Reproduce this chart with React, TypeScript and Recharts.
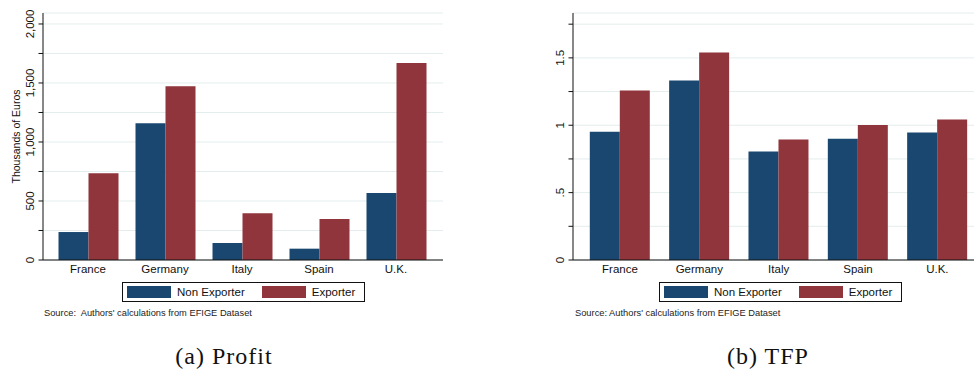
import React from "react";
import { BarChart, Bar, XAxis, YAxis, CartesianGrid, Legend } from "recharts";

const countries = ["France", "Germany", "Italy", "Spain", "U.K."];

const profitNonExporter = [237, 1158, 144, 96, 568];
const profitExporter = [735, 1472, 396, 347, 1669];
const profitTicks = [0, 250, 500, 750, 1000, 1250, 1500, 1750, 2000];

const tfpNonExporter = [0.951, 1.332, 0.806, 0.899, 0.947];
const tfpExporter = [1.258, 1.54, 0.895, 1.001, 1.042];
const tfpTicks = [0, 0.25, 0.5, 0.75, 1, 1.25, 1.5, 1.75];

const seriesNames = ["Non Exporter", "Exporter"];
const sourceNote = "Authors' calculations from EFIGE Dataset";

const NAVY = "#1a476f";
const MAROON = "#90353b";
const GRID = "#e4eded";
const SANS = "'Liberation Sans', Arial, Helvetica, sans-serif";

const profitData = countries.map((c, i) => ({
    country: c,
    non: profitNonExporter[i],
    exp: profitExporter[i],
}));

const tfpData = countries.map((c, i) => ({
    country: c,
    non: tfpNonExporter[i],
    exp: tfpExporter[i],
}));

const fmtProfit = (v: number) => (v % 500 === 0 ? v.toLocaleString("en-US") : "");
const fmtTfp = (v: number) => (v % 0.5 === 0 ? String(v).replace(/^0\./, ".") : "");

// rotated y tick labels, Stata style
const makeYTick = (fmt: (v: number) => string) => (props: any) => {
    const { x, y, payload } = props;
    const label = fmt(payload.value);
    if (!label) return <g />;
    return (
        <text
            transform={`translate(${x - 3},${y}) rotate(-90)`}
            textAnchor="middle"
            fontSize={11.5}
            fontFamily={SANS}
            fill="#111"
        >
            {label}
        </text>
    );
};

const yTitle = (title: string) => (props: any) => {
    const vb = props.viewBox || {};
    return (
        <text
            transform={`translate(${vb.x + 20},${vb.y + vb.height / 2}) rotate(-90)`}
            textAnchor="middle"
            fontSize={10.5}
            fontFamily={SANS}
            fill="#111"
        >
            {title}
        </text>
    );
};

const LegendBox = ({ gap }: { gap: number }) => (
    <div
        style={{
            display: "flex",
            alignItems: "center",
            border: "1px solid #111",
            height: 20,
            padding: "0 4px",
            fontFamily: SANS,
            fontSize: 11.5,
            color: "#111",
            background: "#fff",
            boxSizing: "border-box",
        }}
    >
        <span style={{ width: 44, height: 12, background: NAVY, display: "inline-block" }} />
        <span style={{ marginLeft: 6, marginRight: gap }}>{seriesNames[0]}</span>
        <span style={{ width: 44, height: 12, background: MAROON, display: "inline-block" }} />
        <span style={{ marginLeft: 6, marginRight: 5 }}>{seriesNames[1]}</span>
    </div>
);

interface PanelProps {
    data: any[];
    ticks: number[];
    domainMax: number;
    fmt: (v: number) => string;
    width: number;
    yWidth: number;
    marginRight: number;
    padLeft: number;
    padRight: number;
    catGap: number;
    legendLeft: number;
    legendGap: number;
    title?: string;
}

const Panel: React.FC<PanelProps> = (p) => (
    <BarChart
        width={p.width}
        height={372}
        data={p.data}
        margin={{ top: 13, right: p.marginRight, left: 0, bottom: 82 }}
        barGap={0}
        barCategoryGap={p.catGap}
    >
        <CartesianGrid vertical={false} stroke={GRID} strokeWidth={1} />
        <XAxis
            dataKey="country"
            height={30}
            tickLine={false}
            tickSize={0}
            tickMargin={4.5}
            padding={{ left: p.padLeft, right: p.padRight }}
            axisLine={{ stroke: "#111" }}
            tick={{ fontSize: 11.5, fontFamily: SANS, fill: "#111" }}
            interval={0}
        />
        <YAxis
            width={p.yWidth}
            type="number"
            domain={[0, p.domainMax]}
            ticks={p.ticks}
            interval={0}
            tickSize={4.5}
            tickLine={{ stroke: "#111" }}
            axisLine={{ stroke: "#111" }}
            tick={makeYTick(p.fmt)}
            label={p.title ? yTitle(p.title) : undefined}
        />
        <Legend
            layout="vertical"
            align="center"
            verticalAlign="middle"
            wrapperStyle={{ left: p.legendLeft, top: 282, width: "auto" }}
            content={() => <LegendBox gap={p.legendGap} />}
        />
        <Bar dataKey="non" name={seriesNames[0]} fill={NAVY} isAnimationActive={false} />
        <Bar dataKey="exp" name={seriesNames[1]} fill={MAROON} isAnimationActive={false} />
    </BarChart>
);

const noteStyle: React.CSSProperties = {
    position: "absolute",
    top: 308,
    fontFamily: SANS,
    fontSize: 9.3,
    color: "#222",
    whiteSpace: "pre",
};

const captionStyle: React.CSSProperties = {
    position: "absolute",
    top: 343,
    fontFamily: "'Liberation Serif', 'Times New Roman', serif",
    fontSize: 24,
    letterSpacing: 1,
    color: "#111",
    transform: "translateX(-50%)",
    whiteSpace: "pre",
};

export default function App() {
    return (
        <div
            style={{
                position: "absolute",
                left: 0,
                top: 0,
                width: 974,
                height: 372,
                overflow: "hidden",
                background: "#fff",
            }}
        >
            <div style={{ position: "absolute", left: 0, top: 0 }}>
                <Panel
                    data={profitData}
                    ticks={profitTicks}
                    domainMax={2093}
                    fmt={fmtProfit}
                    width={480}
                    yWidth={43}
                    marginRight={37}
                    padLeft={6.5}
                    padRight={8.5}
                    catGap={9}
                    legendLeft={122}
                    legendGap={17}
                    title="Thousands of Euros"
                />
            </div>
            <div style={{ position: "absolute", left: 490, top: 0 }}>
                <Panel
                    data={tfpData}
                    ticks={tfpTicks}
                    domainMax={1.833}
                    fmt={fmtTfp}
                    width={500}
                    yWidth={83}
                    marginRight={5}
                    padLeft={7.3}
                    padRight={8}
                    catGap={9.5}
                    legendLeft={169}
                    legendGap={17}
                />
            </div>
            <div style={{ ...noteStyle, left: 44 }}>{"Source:  " + sourceNote}</div>
            <div style={{ ...noteStyle, left: 575 }}>{"Source: " + sourceNote}</div>
            <div style={{ ...captionStyle, left: 224 }}>(a) Profit</div>
            <div style={{ ...captionStyle, left: 768 }}>(b) TFP</div>
        </div>
    );
}
